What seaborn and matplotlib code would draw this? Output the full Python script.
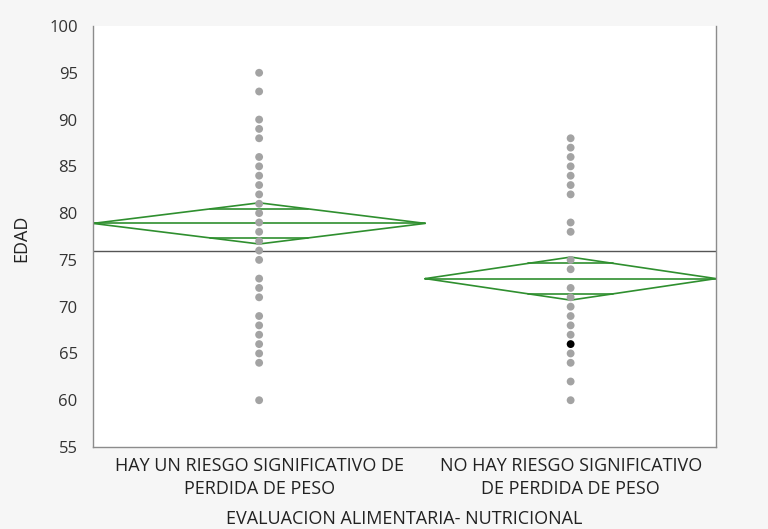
import numpy as np
import pandas as pd
import matplotlib
matplotlib.use("Agg")
import matplotlib.pyplot as plt
from matplotlib import font_manager
import seaborn as sns

# Grupos de la evaluación alimentaria-nutricional
grupos = ["HAY UN RIESGO SIGNIFICATIVO DE\nPERDIDA DE PESO",
          "NO HAY RIESGO SIGNIFICATIVO\nDE PERDIDA DE PESO"]
# Tamaño de cada grupo (ancho proporcional de cada categoría)
n_grupo = [40, 35]

# Edades observadas (valores distintos) por grupo
edad_riesgo = [95, 93, 90, 89, 88, 86, 85, 84, 83, 82, 81, 80, 79, 78, 77,
               76, 75, 73, 72, 71, 69, 68, 67, 66, 65, 64, 60]
edad_sin_riesgo = [88, 87, 86, 85, 84, 83, 82, 79, 78, 75, 74, 72, 71, 70,
                   69, 68, 67, 65, 64, 62, 60]
# Punto seleccionado (resaltado en negro)
edad_resaltada = [66]

# Medias e intervalos de confianza al 95 %
medias = [78.9, 73.0]
ic_inf = [76.7, 70.7]
ic_sup = [81.1, 75.3]
media_global = 76.0

# Posiciones en el eje x proporcionales al tamaño de cada grupo
bordes = np.concatenate([[0], np.cumsum(n_grupo)]) / np.sum(n_grupo)
centros = (bordes[:-1] + bordes[1:]) / 2

df = pd.DataFrame({
    "EDAD": edad_riesgo + edad_sin_riesgo,
    "pos": [centros[0]] * len(edad_riesgo) + [centros[1]] * len(edad_sin_riesgo),
})
df_sel = pd.DataFrame({"EDAD": edad_resaltada, "pos": [centros[1]] * len(edad_resaltada)})

sns.set_style("white")
disponibles = {f.name for f in font_manager.fontManager.ttflist}
fuente_txt = "Open Sans" if "Open Sans" in disponibles else "DejaVu Sans"
plt.rcParams["font.family"] = [fuente_txt, "DejaVu Sans"]

fig = plt.figure(figsize=(7.68, 5.29), dpi=100, facecolor="#f6f6f6")
ax = fig.add_axes([93 / 768, 82 / 529, (716 - 93) / 768, (447 - 26) / 529])
ax.set_facecolor("white")

# Línea de la media global
ax.axhline(media_global, color="#555555", lw=1.0, zorder=1)

# Puntos individuales
sns.scatterplot(data=df, x="pos", y="EDAD", color="#a3a3a3", s=32,
                edgecolor="none", ax=ax, zorder=3, legend=False)
sns.scatterplot(data=df_sel, x="pos", y="EDAD", color="black", s=32,
                edgecolor="none", ax=ax, zorder=4, legend=False)

# Diamantes de medias con marcas de solapamiento
verde = "#2f8f2f"
for a, b, c, m, lo, hi in zip(bordes[:-1], bordes[1:], centros, medias, ic_inf, ic_sup):
    ax.plot([a, c, b, c, a], [m, hi, m, lo, m], color=verde, lw=1.2, zorder=2)
    ax.plot([a, b], [m, m], color=verde, lw=1.2, zorder=2)
    for s in (+1, -1):
        y = m + s * (hi - m) / np.sqrt(2)
        half = (b - a) / 2 * (1 - 1 / np.sqrt(2))
        ax.plot([c - half, c + half], [y, y], color=verde, lw=1.2, zorder=2)

ax.set_xlim(0, 1)
ax.set_ylim(55, 100)
ax.set_yticks(np.arange(55, 101, 5))

# Marcas en los límites de categoría, etiquetas en los centros
ax.set_xticks(bordes)
ax.set_xticklabels([])
ax.set_xticks(centros, minor=True)
ax.set_xticklabels(grupos, minor=True, fontsize=13, color="#222222",
                   linespacing=1.35)
ax.tick_params(axis="x", which="major", direction="out", length=10,
               color="#8c8c8c", width=1)
ax.tick_params(axis="x", which="minor", length=0, pad=7)
ax.tick_params(axis="y", direction="out", length=6, color="#8c8c8c",
               width=1, labelsize=12, labelcolor="#333333", pad=5)

for lado in ("left", "bottom", "right"):
    ax.spines[lado].set_color("#8c8c8c")
    ax.spines[lado].set_linewidth(1)
ax.spines["top"].set_visible(False)

ax.set_xlabel("")
ax.set_ylabel("EDAD", fontsize=13, color="#222222")
ax.yaxis.set_label_coords((30 - 93) / 623, (529 - 238 - 82) / 421)

fig.text((93 + 716) / 2 / 768, 1 - 519 / 529, "EVALUACION ALIMENTARIA- NUTRICIONAL",
         ha="center", va="center", fontsize=13, color="#222222")

fig.savefig("out.png", dpi=100, facecolor=fig.get_facecolor())
